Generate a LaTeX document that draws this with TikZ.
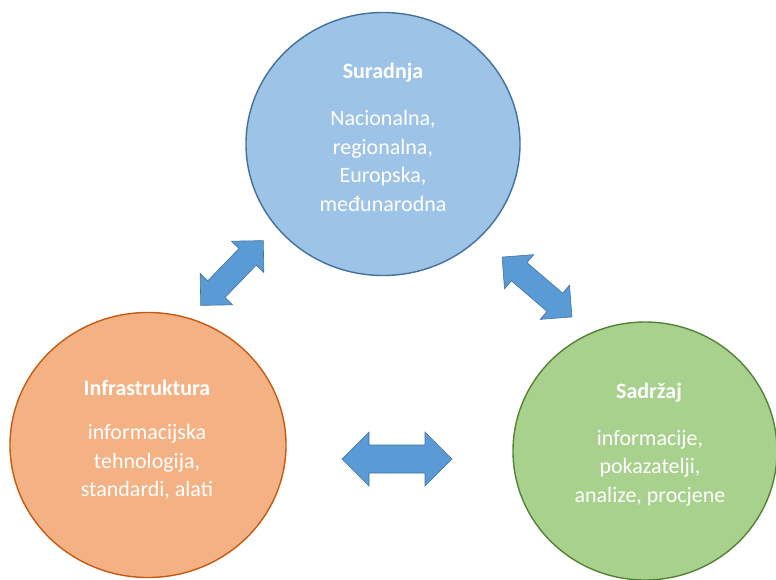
\documentclass[tikz,border=0pt]{standalone}
\usepackage{fontspec}
\setmainfont{Carlito}
\usetikzlibrary{shapes.geometric}
\definecolor{bluefill}{HTML}{9DC3E6}
\definecolor{blueline}{HTML}{41719C}
\definecolor{orangefill}{HTML}{F4B183}
\definecolor{orangeline}{HTML}{C55A11}
\definecolor{greenfill}{HTML}{A9D18E}
\definecolor{greenline}{HTML}{548235}
\definecolor{arrowfill}{HTML}{5B9BD5}
\newcommand{\dblarrowshape}[7]{%
  \begin{scope}[shift={(#1,#2)}, rotate=#3]
    \draw[arrowsty] ({-#4},0) -- ({-#4+#5},{#6}) -- ({-#4+#5},{#7}) -- ({#4-#5},{#7})
      -- ({#4-#5},{#6}) -- ({#4},0) -- ({#4-#5},{-#6}) -- ({#4-#5},{-#7})
      -- ({-#4+#5},{-#7}) -- ({-#4+#5},{-#6}) -- cycle;
  \end{scope}}
\tikzset{
  blob/.style={ellipse, draw, line width=1.4pt, inner sep=0pt},
  titletext/.style={text=white, font=\fontsize{22}{26}\selectfont\bfseries, inner sep=0pt},
  bodytext/.style={text=white, font=\fontsize{22}{28.5}\selectfont, align=center, inner sep=0pt},
  arrowsty/.style={fill=arrowfill, draw=blueline, line width=0.6pt, line join=miter}
}
\begin{document}
\begin{tikzpicture}[x=1pt, y=-1pt]
\useasboundingbox (0,0) rectangle (776,579);
% circles
\node[blob, fill=bluefill, draw=blueline, minimum width=274pt, minimum height=263pt] (top) at (383,144) {};
\node[blob, fill=orangefill, draw=orangeline, minimum width=276pt, minimum height=265pt] (left) at (148,445) {};
\node[blob, fill=greenfill, draw=greenline, minimum width=264pt, minimum height=258pt] (right) at (645,451) {};
% texts
\node[titletext] (toptitle) at (383,73) {Suradnja};
\node[bodytext] (topbody) at (383,161) {Nacionalna,\\regionalna,\\Europska,\\međunarodna};
\node[titletext] (lefttitle) at (147,388) {Infrastruktura};
\node[bodytext] (leftbody) at (147,462) {informacijska\\tehnologija,\\standardi, alati};
\node[titletext] (righttitle) at (649,393) {Sadržaj};
\node[bodytext] (rightbody) at (650,468) {informacije,\\pokazatelji,\\analize, procjene};
% block arrows
\dblarrowshape{397}{459}{0}{55}{27}{27}{14}
\dblarrowshape{232}{273}{46}{45}{22.5}{22.5}{12}
\dblarrowshape{537}{287}{-40.6}{46}{22.5}{22.5}{12}
\end{tikzpicture}
\end{document}
